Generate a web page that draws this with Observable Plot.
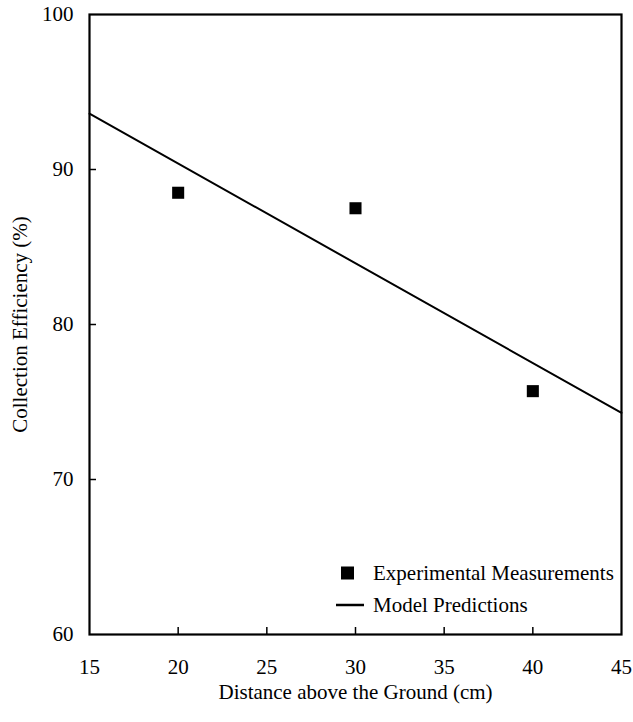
<!DOCTYPE html>
<html>
<head>
<meta charset="utf-8">
<script src="https://cdn.jsdelivr.net/npm/d3@7"></script>
<script src="https://cdn.jsdelivr.net/npm/@observablehq/plot@0.6"></script>
<style>
  html, body { margin: 0; padding: 0; background: #fff; }
  #wrap { position: relative; width: 633px; height: 722px; font-family: 'Liberation Serif', Tinos, 'Times New Roman', Times, serif; }
  #wrap svg text { font-family: 'Liberation Serif', Tinos, 'Times New Roman', Times, serif; }
  #legend { position: absolute; left: 330px; top: 557px; font-size: 21px; color: #000; }
  #legend .row { display: flex; align-items: center; height: 32px; }
  #legend svg { width: 40px; height: 20px; margin-right: 3px; }
</style>
</head>
<body>
<div id="wrap"></div>
<script>
const distances = [20, 30, 40];
const measured = [88.5, 87.5, 75.7];
const modelDistances = [15, 45];
const modelEfficiency = [93.6, 74.3];
const xTicks = [15, 20, 25, 30, 35, 40, 45];
const xInnerTicks = [20, 25, 30, 35, 40];
const yTicks = [60, 70, 80, 90, 100];
const yInnerTicks = [70, 80, 90];
const xTitle = "Distance above the Ground (cm)";
const yTitle = "Collection Efficiency (%)";
const legendLabels = ["Experimental Measurements", "Model Predictions"];

const points = distances.map((d, i) => ({x: d, y: measured[i]}));
const model = modelDistances.map((d, i) => ({x: d, y: modelEfficiency[i]}));

const chart = Plot.plot({
  width: 633,
  height: 722,
  marginLeft: 89,
  marginRight: 12,
  marginTop: 14,
  marginBottom: 88,
  style: {fontSize: "21px", color: "#000", background: "#fff"},
  x: {domain: [15, 45]},
  y: {domain: [60, 100]},
  marks: [
    Plot.axisX(xInnerTicks, {tickSize: 7, dy: -7, tickFormat: () => "", label: null, strokeWidth: 1.5}),
    Plot.axisY(yInnerTicks, {tickSize: 7, dx: 7, tickFormat: () => "", label: null, strokeWidth: 1.5}),
    Plot.axisX(xTicks, {tickSize: 0, tickPadding: 25, label: null, fontSize: 21}),
    Plot.axisY(yTicks, {tickSize: 0, tickPadding: 16, label: null, fontSize: 21}),
    Plot.text([xTitle], {frameAnchor: "bottom", dy: 64, textAnchor: "middle", fontSize: 21}),
    Plot.text([yTitle], {frameAnchor: "left", dx: -69, rotate: -90, textAnchor: "middle", lineAnchor: "middle", fontSize: 21}),
    Plot.line(model, {x: "x", y: "y", stroke: "#000", strokeWidth: 2}),
    Plot.dot(points, {x: "x", y: "y", symbol: "square", r: 6.8, fill: "#000", stroke: "none"}),
    Plot.frame({stroke: "#000", strokeWidth: 2.2})
  ]
});

const wrap = document.getElementById("wrap");
wrap.appendChild(chart);

const legend = document.createElement("div");
legend.id = "legend";
legend.innerHTML =
  `<div class="row"><svg viewBox="0 0 40 20"><rect x="11" y="3.5" width="13" height="13" fill="#000"/></svg><span>${legendLabels[0]}</span></div>` +
  `<div class="row"><svg viewBox="0 0 40 20"><line x1="6" x2="34" y1="10" y2="10" stroke="#000" stroke-width="2.5"/></svg><span>${legendLabels[1]}</span></div>`;
wrap.appendChild(legend);
</script>
</body>
</html>
